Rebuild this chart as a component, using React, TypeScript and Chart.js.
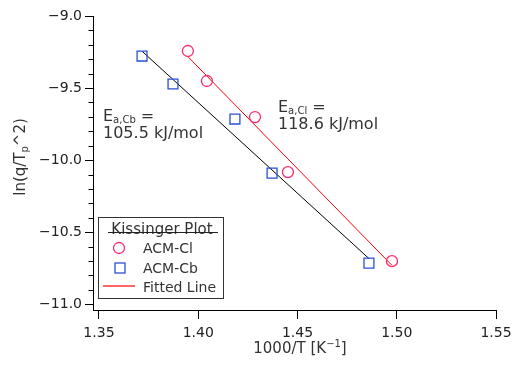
import { useEffect, useRef } from "react";
import { Chart, registerables } from "chart.js";

Chart.register(...registerables);

// Kissinger plot data: x = 1000/T [1/K], y = ln(q/Tp^2)
const CL_X = [1.3948, 1.4044, 1.4286, 1.4452, 1.4976];
const CL_Y = [-9.243, -9.451, -9.701, -10.083, -10.701];
const CB_X = [1.3717, 1.3873, 1.4185, 1.4372, 1.486];
const CB_Y = [-9.278, -9.472, -9.715, -10.09, -10.715];

const X_TICKS = [1.35, 1.4, 1.45, 1.5, 1.55];
const Y_TICKS = [-11.0, -10.5, -10.0, -9.5, -9.0];
const Y_MINOR_STEP = 0.1;

const EA_CL_LABEL = "118.6 kJ/mol";
const EA_CB_LABEL = "105.5 kJ/mol";
const LEGEND_TITLE = "Kissinger Plot";
const LEGEND_ITEMS = ["ACM-Cl", "ACM-Cb", "Fitted Line"];

const FONT = "DejaVu Sans";
const TEXT = "#333";
const CL_COLOR = "#ff2a6d";
const CB_COLOR = "#2a4fd6";
const FIT_CL_COLOR = "#ff0000";
const FIT_CB_COLOR = "#000000";

// least-squares line evaluated across the data's x range
function linearFit(xs: number[], ys: number[]) {
  const n = xs.length;
  const mx = xs.reduce((a, b) => a + b, 0) / n;
  const my = ys.reduce((a, b) => a + b, 0) / n;
  let sxy = 0;
  let sxx = 0;
  for (let i = 0; i < n; i++) {
    sxy += (xs[i] - mx) * (ys[i] - my);
    sxx += (xs[i] - mx) * (xs[i] - mx);
  }
  const slope = sxy / sxx;
  const x0 = Math.min(...xs);
  const x1 = Math.max(...xs);
  return [
    { x: x0, y: my + slope * (x0 - mx) },
    { x: x1, y: my + slope * (x1 - mx) },
  ];
}

type Part = { t: string; size: number; dy?: number };

function partsWidth(ctx: CanvasRenderingContext2D, parts: Part[]) {
  let w = 0;
  for (const p of parts) {
    ctx.font = `${p.size}px "${FONT}"`;
    w += ctx.measureText(p.t).width;
  }
  return w;
}

function drawParts(ctx: CanvasRenderingContext2D, x: number, y: number, parts: Part[]) {
  let cx = x;
  for (const p of parts) {
    ctx.font = `${p.size}px "${FONT}"`;
    ctx.fillText(p.t, cx, y + (p.dy || 0));
    cx += ctx.measureText(p.t).width;
  }
}

const decorations = {
  id: "decorations",
  afterDraw(chart: any) {
    const ctx: CanvasRenderingContext2D = chart.ctx;
    const ys = chart.scales.y;
    const area = chart.chartArea;
    ctx.save();

    // minor ticks on the y axis
    ctx.strokeStyle = "#000";
    ctx.lineWidth = 1;
    const left = Math.round(area.left) + 0.5;
    for (let k = Math.round(Y_TICKS[0] / Y_MINOR_STEP); k <= Math.round(Y_TICKS[Y_TICKS.length - 1] / Y_MINOR_STEP); k++) {
      const v = k * Y_MINOR_STEP;
      if (Y_TICKS.some((t) => Math.abs(t - v) < 1e-6)) continue;
      const py = Math.round(ys.getPixelForValue(v)) + 0.5;
      ctx.beginPath();
      ctx.moveTo(left - 5, py);
      ctx.lineTo(left, py);
      ctx.stroke();
    }

    ctx.fillStyle = TEXT;
    ctx.textBaseline = "alphabetic";
    ctx.textAlign = "left";

    // x axis title
    const xt: Part[] = [
      { t: "1000/T [K", size: 15 },
      { t: "−1", size: 10, dy: -6 },
      { t: "]", size: 15 },
    ];
    drawParts(ctx, 300 - partsWidth(ctx, xt) / 2, 353, xt);

    // y axis title
    const yt: Part[] = [
      { t: "ln(q/T", size: 15 },
      { t: "p", size: 10, dy: 3 },
      { t: "^2)", size: 15 },
    ];
    ctx.save();
    ctx.translate(25, 157);
    ctx.rotate(-Math.PI / 2);
    drawParts(ctx, -partsWidth(ctx, yt) / 2, 0, yt);
    ctx.restore();

    // activation energy annotations
    drawParts(ctx, 103, 121, [
      { t: "E", size: 16 },
      { t: "a,Cb", size: 10, dy: 2 },
      { t: " =", size: 16 },
    ]);
    drawParts(ctx, 103, 138, [{ t: EA_CB_LABEL, size: 16 }]);
    drawParts(ctx, 278, 112, [
      { t: "E", size: 16 },
      { t: "a,Cl", size: 10, dy: 2 },
      { t: " =", size: 16 },
    ]);
    drawParts(ctx, 278, 129, [{ t: EA_CL_LABEL, size: 16 }]);

    // legend box
    ctx.fillStyle = "#fff";
    ctx.fillRect(98.5, 217.5, 125, 81);
    ctx.lineWidth = 1;
    ctx.strokeStyle = "#333";
    ctx.strokeRect(98.5, 217.5, 125, 81);

    ctx.fillStyle = TEXT;
    ctx.font = `15px "${FONT}"`;
    ctx.textAlign = "center";
    ctx.fillText(LEGEND_TITLE, 162, 234);
    ctx.strokeStyle = "#222";
    ctx.beginPath();
    ctx.moveTo(108, 232.5);
    ctx.lineTo(218, 232.5);
    ctx.stroke();

    ctx.textAlign = "left";
    ctx.font = `14px "${FONT}"`;
    ctx.fillText(LEGEND_ITEMS[0], 143, 253);
    ctx.fillText(LEGEND_ITEMS[1], 143, 273);
    ctx.fillText(LEGEND_ITEMS[2], 143, 292);

    ctx.lineWidth = 1.3;
    ctx.strokeStyle = CL_COLOR;
    ctx.beginPath();
    ctx.arc(119, 248, 5.5, 0, Math.PI * 2);
    ctx.stroke();

    ctx.strokeStyle = CB_COLOR;
    ctx.strokeRect(115, 263, 10, 10);

    ctx.lineWidth = 1.2;
    ctx.strokeStyle = FIT_CL_COLOR;
    ctx.beginPath();
    ctx.moveTo(103, 286);
    ctx.lineTo(135, 286);
    ctx.stroke();

    ctx.restore();
  },
};

export default function App() {
  const canvasRef = useRef<HTMLCanvasElement | null>(null);

  useEffect(() => {
    document.body.style.margin = "0";
    const canvas = canvasRef.current;
    if (!canvas) return;
    Chart.defaults.font.family = FONT;

    const clPoints = CL_X.map((x, i) => ({ x, y: CL_Y[i] }));
    const cbPoints = CB_X.map((x, i) => ({ x, y: CB_Y[i] }));

    const chart = new Chart(canvas, {
      type: "scatter",
      data: {
        datasets: [
          {
            label: "ACM-Cl",
            data: clPoints,
            pointStyle: "circle",
            pointRadius: 5.5,
            pointBorderWidth: 1.3,
            borderColor: CL_COLOR,
            backgroundColor: "rgba(0,0,0,0)",
            showLine: false,
          },
          {
            label: "ACM-Cb",
            data: cbPoints,
            pointStyle: "rect",
            pointRadius: 7,
            pointBorderWidth: 1.3,
            borderColor: CB_COLOR,
            backgroundColor: "rgba(0,0,0,0)",
            showLine: false,
          },
          {
            label: "Fit Cl",
            data: linearFit(CL_X, CL_Y),
            showLine: true,
            borderColor: FIT_CL_COLOR,
            borderWidth: 1,
            pointRadius: 0,
          },
          {
            label: "Fit Cb",
            data: linearFit(CB_X, CB_Y),
            showLine: true,
            borderColor: FIT_CB_COLOR,
            borderWidth: 1,
            pointRadius: 0,
          },
        ],
      },
      options: {
        responsive: false,
        animation: false,
        layout: { padding: { top: 16, right: 17, left: 0, bottom: 0 } },
        plugins: {
          legend: { display: false },
          tooltip: { enabled: false },
        },
        scales: {
          x: {
            type: "linear",
            min: 1.347,
            max: 1.55,
            afterBuildTicks: (s: any) => {
              s.ticks = X_TICKS.map((v) => ({ value: v }));
            },
            afterFit: (s: any) => {
              s.height = 55;
              s.paddingLeft = 0;
              s.paddingRight = 0;
            },
            grid: { drawOnChartArea: false, drawTicks: true, tickLength: 9, color: "#000", lineWidth: 1 },
            border: { display: true, color: "#000", width: 1 },
            ticks: {
              font: { family: FONT, size: 14 },
              color: "#222",
              padding: 6,
              maxRotation: 0,
              autoSkip: false,
              callback: (v: any) => Number(v).toFixed(2),
            },
          },
          y: {
            type: "linear",
            min: -11.04,
            max: -9.0,
            afterBuildTicks: (s: any) => {
              s.ticks = Y_TICKS.map((v) => ({ value: v }));
            },
            afterFit: (s: any) => {
              s.width = 93;
              s.paddingTop = 0;
              s.paddingBottom = 0;
            },
            grid: { drawOnChartArea: false, drawTicks: true, tickLength: 8, color: "#000", lineWidth: 1 },
            border: { display: true, color: "#000", width: 1 },
            ticks: {
              font: { family: FONT, size: 14 },
              color: "#222",
              padding: 3,
              autoSkip: false,
              callback: (v: any) => {
                const n = Number(v);
                return (n < 0 ? "−" : "") + Math.abs(n).toFixed(1);
              },
            },
          },
        },
      },
      plugins: [decorations],
    });

    return () => chart.destroy();
  }, []);

  return (
    <div style={{ width: 513, height: 365, background: "#fff" }}>
      <canvas ref={canvasRef} width={513} height={365} style={{ display: "block" }} />
    </div>
  );
}
